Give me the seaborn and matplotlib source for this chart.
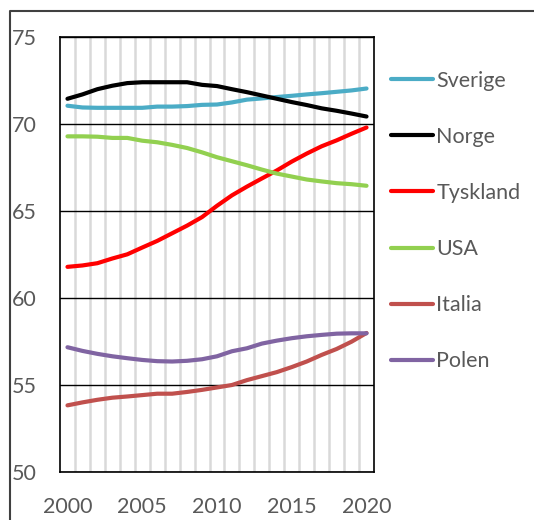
import numpy as np
import pandas as pd
import seaborn as sns
import matplotlib.pyplot as plt
from matplotlib.lines import Line2D

years = list(range(2000, 2021))
countries = ['Sverige', 'Norge', 'Tyskland', 'USA', 'Italia', 'Polen']
colors = ['#4BACC6', '#000000', '#FF0000', '#92D050', '#C0504D', '#8064A2']

sverige = [71.05, 70.95, 70.93, 70.93, 70.93, 70.93, 71.0, 71.0, 71.03, 71.1, 71.12,
           71.24, 71.4, 71.47, 71.55, 71.62, 71.7, 71.77, 71.85, 71.93, 72.04]
norge = [71.45, 71.7, 72.0, 72.2, 72.35, 72.4, 72.4, 72.4, 72.4, 72.25, 72.18,
         72.0, 71.83, 71.64, 71.45, 71.26, 71.09, 70.9, 70.76, 70.6, 70.43]
tyskland = [61.79, 61.87, 62.0, 62.27, 62.51, 62.9, 63.28, 63.72, 64.16, 64.65, 65.3,
            65.9, 66.4, 66.87, 67.33, 67.84, 68.3, 68.72, 69.06, 69.44, 69.8]
usa = [69.29, 69.29, 69.27, 69.2, 69.2, 69.04, 68.95, 68.8, 68.62, 68.37, 68.09,
       67.86, 67.63, 67.38, 67.15, 66.98, 66.81, 66.7, 66.6, 66.54, 66.45]
italia = [53.83, 54.0, 54.15, 54.27, 54.34, 54.42, 54.5, 54.5, 54.6, 54.72, 54.86,
          55.0, 55.28, 55.51, 55.74, 56.03, 56.35, 56.73, 57.07, 57.49, 57.99]
polen = [57.17, 56.96, 56.79, 56.65, 56.54, 56.44, 56.37, 56.35, 56.39, 56.48, 56.65,
         56.94, 57.11, 57.38, 57.55, 57.69, 57.8, 57.88, 57.95, 57.97, 57.97]

series = [sverige, norge, tyskland, usa, italia, polen]
df = pd.concat([pd.DataFrame({'year': years, 'value': v, 'land': c})
                for c, v in zip(countries, series)], ignore_index=True)

sns.set_style('white')
plt.rcParams['font.family'] = ['Lato', 'DejaVu Sans']
grey = '#595959'
fs = 15.5

fig = plt.figure(figsize=(5.34, 5.2), dpi=100)
ax = fig.add_axes([60 / 534, 1 - 472 / 520, 314 / 534, 435 / 520])

sns.lineplot(data=df, x='year', y='value', hue='land', hue_order=countries,
             palette=dict(zip(countries, colors)), linewidth=3,
             solid_capstyle='round', ax=ax, zorder=3)

ax.set_xlim(1999.5, 2020.5)
ax.set_ylim(50, 75)
ax.set_xticks([2000, 2005, 2010, 2015, 2020])
ax.set_xticks(np.arange(2000.5, 2020, 1), minor=True)
ax.set_yticks([50, 55, 60, 65, 70, 75])
ax.grid(False)
ax.grid(axis='x', which='minor', color='#D9D9D9', linewidth=1.8, zorder=1)
ax.grid(axis='y', which='major', color='black', linewidth=1.0, zorder=2)
ax.set_axisbelow(True)
ax.set_xlabel('')
ax.set_ylabel('')
ax.tick_params(axis='both', which='both', length=0, labelsize=fs, labelcolor=grey)
ax.tick_params(axis='y', pad=17)
ax.tick_params(axis='x', pad=18)
for s in ax.spines.values():
    s.set_color('black')
    s.set_linewidth(1.2)

handles, labels = ax.get_legend_handles_labels()
ax.legend(handles, labels, loc='center left', bbox_to_anchor=(391 / 534, 1 - 221 / 520),
          bbox_transform=fig.transFigure, frameon=False, fontsize=fs,
          labelcolor=grey, handlelength=1.95, handletextpad=0.15,
          labelspacing=1.68, borderpad=0, borderaxespad=0)

# outer chart border (top and left edges visible)
fig.add_artist(Line2D([10 / 534, 10 / 534, 1], [0, 1 - 11 / 520, 1 - 11 / 520],
                      transform=fig.transFigure, color='#404040', linewidth=1.5))

fig.savefig('out.png', dpi=100)
